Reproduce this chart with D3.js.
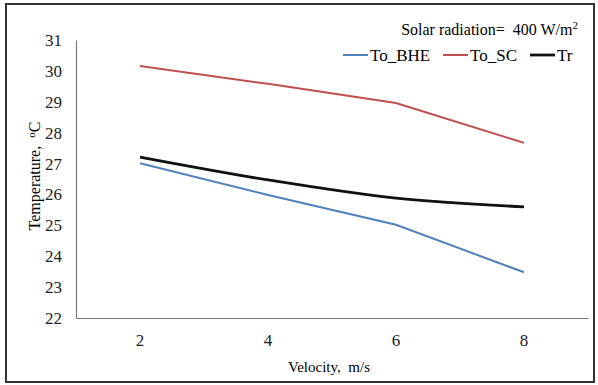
<!DOCTYPE html>
<html>
<head>
<meta charset="utf-8">
<script src="https://cdn.jsdelivr.net/npm/d3@7"></script>
<style>
  body { margin: 0; background: #fff; }
</style>
</head>
<body>
<div id="chart-area"></div>
<script>
// data
var velocity = ["2", "4", "6", "8"];
var toBHE = [27.01, 25.98, 25.02, 23.48];
var toSC = [30.16, 29.58, 28.96, 27.67];
var tr = [27.21, 26.47, 25.88, 25.60];
var yTicks = [22, 23, 24, 25, 26, 27, 28, 29, 30, 31];

var serif = "'Liberation Serif', 'Times New Roman', serif";

var series = [
    {name: "To_BHE", values: toBHE, color: "#4F81BD", width: 2, curve: d3.curveLinear},
    {name: "To_SC", values: toSC, color: "#C0504D", width: 2, curve: d3.curveLinear},
    {name: "Tr", values: tr, color: "#111", width: 2.8, curve: d3.curveCatmullRom}
];

var svg = d3.select("#chart-area").append("svg")
    .attr("width", 598)
    .attr("height", 385);

// outer frame
svg.append("rect")
    .attr("x", 6).attr("y", 4)
    .attr("width", 588).attr("height", 378)
    .attr("fill", "#fff")
    .attr("stroke", "#333")
    .attr("stroke-width", 2);

var x = d3.scaleBand().domain(velocity).range([76, 588]);
var y = d3.scaleLinear().domain([22, 31]).range([318, 40]);

// y axis
var yAxis = svg.append("g")
    .attr("transform", "translate(76,0)")
    .call(d3.axisLeft(y).tickValues(yTicks).tickSize(0).tickPadding(14).tickFormat(d3.format("d")));
yAxis.select(".domain").attr("stroke", "#777").attr("stroke-width", 1.2);
yAxis.selectAll("text").style("font-size", "17px").attr("fill", "#222");

// x axis
var xAxis = svg.append("g")
    .attr("transform", "translate(0,318)")
    .call(d3.axisBottom(x).tickSize(0).tickPadding(16));
xAxis.select(".domain").attr("stroke", "#777").attr("stroke-width", 1.2);
xAxis.selectAll("text").style("font-size", "17px").attr("fill", "#222");

// lines
svg.selectAll("path.series")
    .data(series)
    .enter()
    .append("path")
    .attr("class", "series")
    .attr("fill", "none")
    .attr("stroke", function(d) {return d.color;})
    .attr("stroke-width", function(d) {return d.width;})
    .attr("d", function(d) {
        return d3.line()
            .x(function(v, i) {return x(velocity[i]) + x.bandwidth() / 2;})
            .y(function(v) {return y(v);})
            .curve(d.curve)(d.values);
    });

// axis titles
svg.append("text")
    .attr("x", 329).attr("y", 372)
    .attr("text-anchor", "middle")
    .style("font-size", "15px")
    .text("Velocity,\u00a0 m/s");

var yt = svg.append("text")
    .attr("transform", "translate(40,176) rotate(-90)")
    .attr("text-anchor", "middle")
    .style("font-size", "16px");
yt.append("tspan").text("Temperature,\u00a0\u00a0");
yt.append("tspan").style("font-size", "11px").attr("dy", -5).text("o");
yt.append("tspan").attr("dy", 5).text("C");

// annotation
var note = svg.append("text")
    .attr("x", 578).attr("y", 35)
    .attr("text-anchor", "end")
    .style("font-size", "16px");
note.append("tspan").text("Solar radiation=\u00a0 400 W/m");
note.append("tspan").style("font-size", "11px").attr("dy", -6).text("2");

// legend
var legendX = [343, 443, 530];
var legend = svg.selectAll("g.legend")
    .data(series)
    .enter()
    .append("g")
    .attr("class", "legend")
    .attr("transform", function(d, i) {return "translate(" + legendX[i] + ",55)";});
legend.append("line")
    .attr("x1", 0).attr("x2", 25)
    .attr("stroke", function(d) {return d.color;})
    .attr("stroke-width", function(d) {return d.width;});
legend.append("text")
    .attr("x", 27).attr("y", 6)
    .style("font-size", "17px")
    .text(function(d) {return d.name;});

// serif everywhere, inline so nothing overrides it
svg.selectAll("text").style("font-family", serif);
</script>
</body>
</html>
